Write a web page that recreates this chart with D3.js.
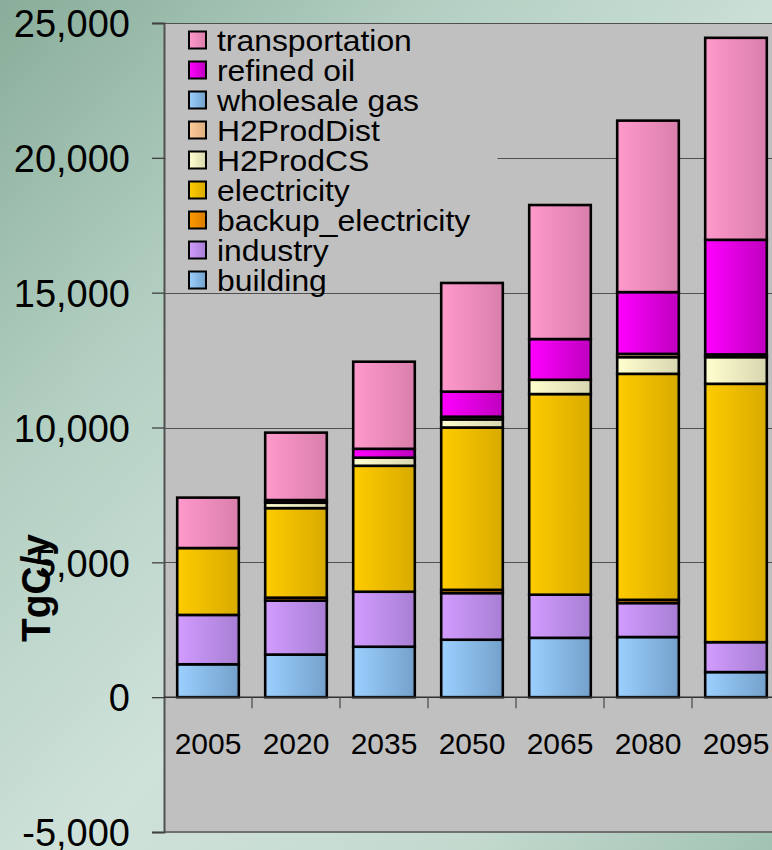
<!DOCTYPE html>
<html>
<head>
<meta charset="utf-8">
<script src="https://cdn.jsdelivr.net/npm/d3@7"></script>
<style>
  html, body { margin: 0; padding: 0; }
  body { width: 772px; height: 850px; overflow: hidden; }
  svg text { font-family: "Liberation Sans", Arial, sans-serif; fill: #000; }
</style>
</head>
<body>
<svg id="chart" width="772" height="850"></svg>
<script>
// Carbon emissions by sector, TgC per year
const years = ["2005", "2020", "2035", "2050", "2065", "2080", "2095"];

const building           = [1220, 1580, 1870, 2130, 2200, 2230, 930];
const industry           = [1830, 2000, 2040, 1730, 1600, 1260, 1110];
const backupElectricity  = [0, 110, 0, 120, 0, 120, 0];
const electricity        = [2480, 3320, 4670, 6020, 7440, 8380, 9580];
const h2ProdCS           = [0, 200, 300, 300, 530, 620, 990];
const h2ProdDist         = [0, 0, 0, 100, 0, 120, 100];
const wholesaleGas       = [0, 0, 0, 0, 0, 0, 0];
const refinedOil         = [0, 100, 330, 930, 1510, 2290, 4250];
const transportation     = [1870, 2500, 3230, 4030, 4970, 6360, 7490];

const yTicks = [-5000, 0, 5000, 10000, 15000, 20000, 25000];

// stacking order, bottom to top
const seriesKeys = ["building", "industry", "backup_electricity", "electricity",
                    "H2ProdCS", "H2ProdDist", "wholesale gas", "refined oil", "transportation"];
const seriesValues = {
  "building": building,
  "industry": industry,
  "backup_electricity": backupElectricity,
  "electricity": electricity,
  "H2ProdCS": h2ProdCS,
  "H2ProdDist": h2ProdDist,
  "wholesale gas": wholesaleGas,
  "refined oil": refinedOil,
  "transportation": transportation
};
// light (left) and dark (right) ends of each bar's shading
const seriesColors = {
  "building": ["#9cd0ff", "#73a1cb"],
  "industry": ["#d29cff", "#a77fd3"],
  "backup_electricity": ["#ff9a00", "#d97c00"],
  "electricity": ["#ffcc00", "#d8aa00"],
  "H2ProdCS": ["#ffffcf", "#d8d6b0"],
  "H2ProdDist": ["#ffcc99", "#dcae80"],
  "wholesale gas": ["#9cd0ff", "#73a1cb"],
  "refined oil": ["#ff00ff", "#bf00bf"],
  "transportation": ["#ff99cc", "#d97fab"]
};

const table = years.map((y, i) => {
  const row = { year: y };
  seriesKeys.forEach(k => row[k] = seriesValues[k][i]);
  return row;
});

const W = 772, H = 850;
const plot = { left: 164, right: 780, top: 23, bottom: 832 };

const svg = d3.select("#chart");
const defs = svg.append("defs");

// page background
const bg = defs.append("linearGradient").attr("id", "bg")
  .attr("x1", "0").attr("y1", "0").attr("x2", "1").attr("y2", "1");
bg.append("stop").attr("offset", "0").attr("stop-color", "#89ad9a");
bg.append("stop").attr("offset", "0.28").attr("stop-color", "#b3cfc2");
bg.append("stop").attr("offset", "0.55").attr("stop-color", "#cfe2da");
bg.append("stop").attr("offset", "0.8").attr("stop-color", "#c3d9ce");
bg.append("stop").attr("offset", "1").attr("stop-color", "#a2c3b2");
svg.append("rect").attr("width", W).attr("height", H).attr("fill", "url(#bg)");

seriesKeys.forEach((k, i) => {
  const g = defs.append("linearGradient").attr("id", "grad" + i)
    .attr("x1", "0").attr("y1", "0").attr("x2", "1").attr("y2", "0");
  g.append("stop").attr("offset", "0").attr("stop-color", seriesColors[k][0]);
  g.append("stop").attr("offset", "1").attr("stop-color", seriesColors[k][1]);
});

const x = d3.scaleBand().domain(years).range([plot.left, plot.right])
  .paddingInner(0.3).paddingOuter(0.15);
const y = d3.scaleLinear().domain([-5000, 25000]).range([plot.bottom, plot.top]);

// plot area
svg.append("rect")
  .attr("x", plot.left).attr("y", plot.top)
  .attr("width", plot.right - plot.left).attr("height", plot.bottom - plot.top)
  .attr("fill", "#c0c0c0");

// horizontal gridlines
svg.append("g").selectAll("line").data(yTicks.filter(t => t !== 0 && t !== -5000)).join("line")
  .attr("x1", plot.left).attr("x2", plot.right)
  .attr("y1", d => Math.round(y(d)) + 0.5).attr("y2", d => Math.round(y(d)) + 0.5)
  .attr("stroke", "#505050").attr("stroke-width", 1);

// bottom edge of plot area
svg.append("line")
  .attr("x1", plot.left).attr("x2", plot.right)
  .attr("y1", y(-5000)).attr("y2", y(-5000))
  .attr("stroke", "#707070").attr("stroke-width", 2);

// legend panel sits over the gridlines
svg.append("rect").attr("x", plot.left + 1.5).attr("y", plot.top + 1)
  .attr("width", 332).attr("height", 266).attr("fill", "#c0c0c0");

// y axis
const fmt = d3.format(",");
const yAxis = d3.axisLeft(y).tickValues(yTicks).tickSize(12).tickPadding(22)
  .tickFormat(d => fmt(d).replace("\u2212", "-"));
const yg = svg.append("g").attr("transform", `translate(${plot.left},0)`).call(yAxis);
yg.select(".domain").attr("stroke", "#505050").attr("stroke-width", 2);
yg.selectAll(".tick line").attr("stroke", "#404040").attr("stroke-width", 1.3);
yg.selectAll(".tick text").style("font-size", "38px")
  .attr("font-family", "Liberation Sans, Arial, sans-serif").attr("dy", "0.36em");

// stacked bars
const stack = d3.stack().keys(seriesKeys)(table);
const barG = svg.append("g");
stack.forEach((layer, i) => {
  barG.append("g").selectAll("rect")
    .data(layer.filter(d => d[1] - d[0] > 0))
    .join("rect")
    .attr("x", d => x(d.data.year))
    .attr("width", x.bandwidth())
    .attr("y", d => y(d[1]))
    .attr("height", d => y(d[0]) - y(d[1]))
    .attr("fill", `url(#grad${i})`)
    .attr("stroke", "#000").attr("stroke-width", 2.6);
});

// category axis along zero
const step = x.step();
svg.append("line")
  .attr("x1", plot.left).attr("x2", plot.right)
  .attr("y1", y(0)).attr("y2", y(0))
  .attr("stroke", "#303030").attr("stroke-width", 1.5);
svg.append("g").selectAll("line").data(years.slice(1)).join("line")
  .attr("x1", d => x(d) - x.paddingInner() * step / 2)
  .attr("x2", d => x(d) - x.paddingInner() * step / 2)
  .attr("y1", y(0)).attr("y2", y(0) + 11)
  .attr("stroke", "#505050").attr("stroke-width", 1.3);
svg.append("g").selectAll("text").data(years).join("text")
  .attr("x", d => x(d) + x.bandwidth() / 2)
  .attr("y", y(0) + 57)
  .attr("text-anchor", "middle")
  .style("font-size", "30px")
  .text(d => d);

// y axis title
svg.append("text")
  .attr("transform", "translate(50,588) rotate(-90)")
  .attr("text-anchor", "middle")
  .attr("textLength", 108).attr("lengthAdjust", "spacingAndGlyphs")
  .style("font-size", "40px").style("font-weight", "bold")
  .text("TgC/y");

// legend, top entry first; labels widened slightly
const legendKeys = seriesKeys.slice().reverse();
const lg = svg.append("g");
legendKeys.forEach((k, i) => {
  const cy = 40 + i * 30;
  lg.append("rect")
    .attr("x", 189).attr("y", cy - 8.5).attr("width", 17).attr("height", 17)
    .attr("fill", `url(#grad${seriesKeys.indexOf(k)})`)
    .attr("stroke", "#000").attr("stroke-width", 2);
  const t = lg.append("text")
    .attr("x", 217).attr("y", cy + 10.5)
    .style("font-size", "29.5px")
    .text(k);
  const w = t.node().getComputedTextLength();
  t.attr("textLength", w * 1.08).attr("lengthAdjust", "spacingAndGlyphs");
});
</script>
</body>
</html>
